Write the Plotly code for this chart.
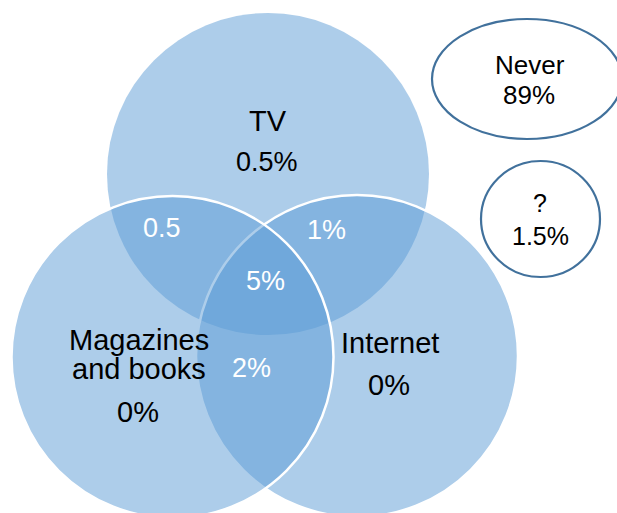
import plotly.graph_objects as go

# Share of respondents per media combination (percent)
set_names = ["TV", "Magazines and books", "Internet"]
set_only = [0.5, 0, 0]                  # TV only, Magazines only, Internet only
pair_names = ["TV & Magazines", "TV & Internet", "Magazines & Internet"]
pair_values = [0.5, 1, 2]
all_three = 5
never_value = 89
unknown_value = 1.5

# Geometry in pixel-like data units (x right, y down)
W, H = 617, 513
R = 161
circle_centers = {"TV": (268, 174), "Magazines and books": (172.5, 357), "Internet": (357, 356)}
set_label_pos = {"TV": (267.5, 121), "Magazines and books": (138.5, 340), "Internet": (390, 343)}
set_value_pos = {"TV": (267, 162), "Magazines and books": (138, 412), "Internet": (389, 385)}
set_value_size = {"TV": 27, "Magazines and books": 29, "Internet": 29}
pair_pos = [(162, 228), (326, 230), (251.5, 368)]
triple_pos = (265.5, 281)

FILL = "rgba(91,155,213,0.5)"
EDGE = "#41719C"
FONT = "Liberation Sans, Arial, sans-serif"
BLACK_SIZE = 29
WHITE_SIZE = 27

fig = go.Figure()
shapes = []
# drawing order: TV, Internet, Magazines (later circles' outlines sit on top)
for name, lw in [("TV", 0), ("Internet", 2.5), ("Magazines and books", 2.5)]:
    cx, cy = circle_centers[name]
    shapes.append(dict(type="circle", xref="x", yref="y",
                       x0=cx - R, x1=cx + R, y0=cy - R, y1=cy + R,
                       fillcolor=FILL, line=dict(color="white", width=lw), layer="above"))

# outside-ellipses for "Never" and "?"
shapes.append(dict(type="circle", xref="x", yref="y", x0=432, x1=622, y0=19, y1=139,
                   fillcolor="white", line=dict(color=EDGE, width=2.2)))
shapes.append(dict(type="circle", xref="x", yref="y", x0=481, x1=600, y0=161, y1=277,
                   fillcolor="white", line=dict(color=EDGE, width=2.2)))

def fmt(v, pct=True):
    s = f"{v:g}"
    return s + "%" if pct else s

annotations = []
def add_text(x, y, text, color, size):
    annotations.append(dict(x=x, y=y, xref="x", yref="y", text=text, showarrow=False,
                            xanchor="center", yanchor="middle",
                            font=dict(family=FONT, size=size, color=color)))

# set titles and exclusive values
add_text(*set_label_pos["TV"], "TV", "black", BLACK_SIZE)
mx, my = set_label_pos["Magazines and books"]
add_text(mx, my, "Magazines", "black", BLACK_SIZE)
add_text(mx, my + 29, "and books", "black", BLACK_SIZE)
add_text(*set_label_pos["Internet"], "Internet", "black", BLACK_SIZE)
for name, v in zip(set_names, set_only):
    add_text(*set_value_pos[name], fmt(v), "black", set_value_size[name])

# overlaps
pair_text = [fmt(pair_values[0], pct=False), fmt(pair_values[1]), fmt(pair_values[2])]
for (x, y), t in zip(pair_pos, pair_text):
    add_text(x, y, t, "white", WHITE_SIZE)
add_text(*triple_pos, fmt(all_three), "white", WHITE_SIZE)

# outside groups
add_text(530, 64.5, "Never", "black", 26)
add_text(529, 95, fmt(never_value), "black", 26)
add_text(540, 203, "?", "black", 25)
add_text(540, 236, fmt(unknown_value), "black", 25)

fig.update_layout(
    width=W, height=H, margin=dict(l=0, r=0, t=0, b=0),
    paper_bgcolor="white", plot_bgcolor="white",
    xaxis=dict(range=[0, W], visible=False, fixedrange=True),
    yaxis=dict(range=[H, 0], visible=False, fixedrange=True),
    shapes=shapes, annotations=annotations, showlegend=False,
)
fig.write_html("out.html")
